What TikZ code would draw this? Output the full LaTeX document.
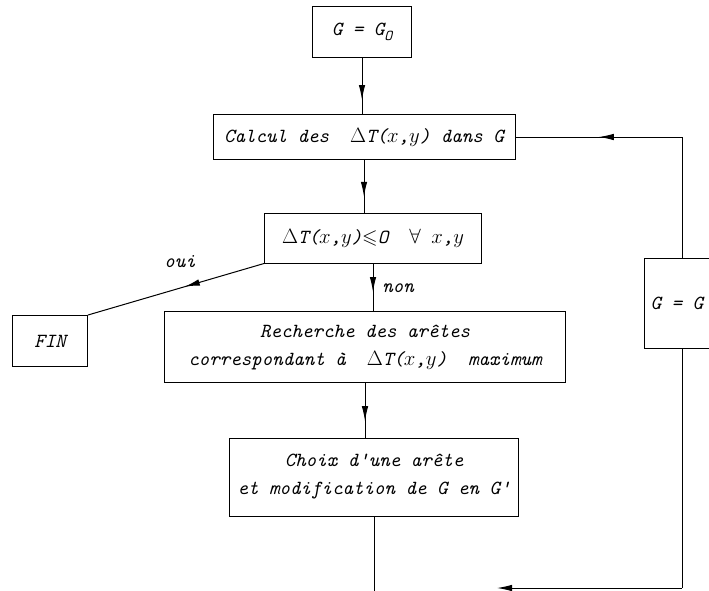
\documentclass[tikz,border=0pt]{standalone}
\usepackage{amssymb}
\usetikzlibrary{arrows.meta,decorations.markings}

\begin{document}
\begin{tikzpicture}[x=1pt,y=-1pt,line width=1pt,
    box/.style={draw,inner sep=0pt,align=center,
      font=\fontsize{20}{28}\selectfont\ttfamily\itshape},
    lbl/.style={font=\fontsize{20}{24}\selectfont\ttfamily\itshape},
    midarrow/.style={postaction=decorate,decoration={markings,
      mark=at position #1 with {\arrow{Latex[length=15pt,width=6.5pt]}}}}]
  \useasboundingbox (0,0) rectangle (709,590);
  \clip (0,0) rectangle (709,590);
  \node[box,minimum width=99,minimum height=51]  (init)  at (362,32)  {G = G\raisebox{-5pt}{\fontsize{15}{15}\selectfont O}};
  \node[box,minimum width=302,minimum height=45] (calc)  at (364,137) {Calcul des \ {$\Delta$}T($x$,$y$) dans G};
  \node[box,minimum width=217,minimum height=50] (test)  at (373,238) {{$\Delta$}T($x$,$y$)$\leqslant$O \ $\forall$ $x$,$y$};
  \node[box,minimum width=75,minimum height=51]  (fin)   at (50,341)  {FIN};
  \node[box,minimum width=401,minimum height=71] (rech)  at (365,347) {Recherche des arêtes\\correspondant à \ {$\Delta$}T($x$,$y$) \ maximum};
  \node[box,minimum width=289,minimum height=78] (choix) at (374,477) {Choix d'une arête\\et modification de G en G'};
  \node[box,minimum width=76,minimum height=90]  (upd)   at (682,303) {G = G'};
  \node[lbl] (oui) at (180,262) {oui};
  \node[lbl] (non) at (398,288) {non};
  \coordinate (bot)  at (choix.south |- 0,595);
  \coordinate (botR) at (upd.south |- 0,588);
  \coordinate (botL) at (497,588);
  \coordinate (topR) at (upd.north |- calc.east);
  \draw[midarrow=0.75] (init.south) -- (init.south |- calc.north);
  \draw[midarrow=0.7]  (calc.south) -- (calc.south |- test.north);
  \draw[midarrow=0.6]  (test.south) -- (test.south |- rech.north);
  \draw[midarrow=0.7]  (rech.south) -- (rech.south |- choix.north);
  \draw[midarrow=0.45] (test.south west) -- (fin.north east);
  \draw (choix.south) -- (bot);
  \draw[-{Latex[length=15pt,width=6.5pt]}] (botR) -- (botL);
  \draw (upd.south) -- (botR);
  \draw (upd.north) -- (topR);
  \draw[midarrow=0.5] (topR) -- (calc.east);
\end{tikzpicture}
\end{document}
